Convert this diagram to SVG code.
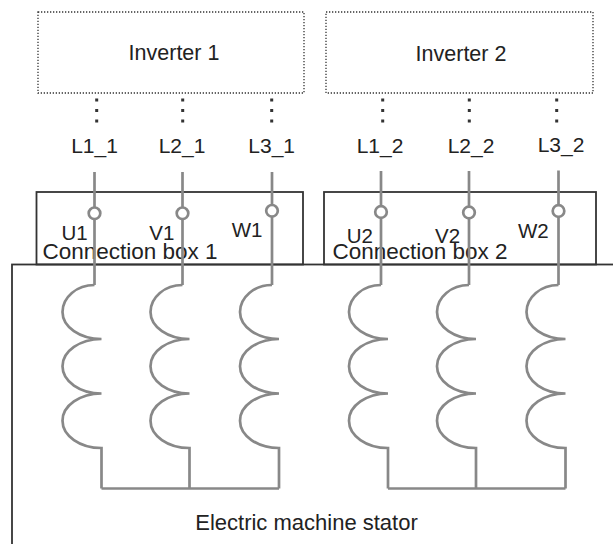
<svg xmlns="http://www.w3.org/2000/svg" xmlns:xlink="http://www.w3.org/1999/xlink" width="613" height="544" viewBox="0 0 613 544">
<style>
  text { font-family: "Liberation Sans", Arial, sans-serif; fill: #222; }
  .inv { fill: none; stroke: #333; stroke-width: 1.3; stroke-dasharray: 1.3 1.7; }
  .box { fill: none; stroke: #333; stroke-width: 1.8; }
  .wire { fill: none; stroke: #888; stroke-width: 2.7; }
  .term { fill: #fff; stroke: #888; stroke-width: 2.7; }
  .dots { stroke: #333; stroke-width: 3; stroke-dasharray: 3 7.5; }
  .big { font-size: 21.5px; }
  .stat { font-size: 22px; }
  .lbl { font-size: 21px; }
  .ph { font-size: 20.5px; }
  .cb { font-size: 22.5px; }
</style>
<defs>
  <path id="coilShape" class="wire" d="M0 285 C-17.7 285 -32 297.1 -32 312 C-32 326.9 -14.5 339 7 339 C-14.5 339 -32 351.2 -32 366.25 C-32 381.3 -14.5 393.5 7 393.5 C-14.5 393.5 -32 405.7 -32 420.75 C-32 435.8 -14.5 448 7 448 V488.5"/>
</defs>

<g id="stator">
  <rect class="box" x="12" y="264.5" width="700" height="400"/>
  <text class="stat" x="306.5" y="530" text-anchor="middle">Electric machine stator</text>
</g>

<g id="inverter1">
  <rect class="inv" x="38" y="12" width="266" height="81"/>
  <text class="big" x="174" y="60" text-anchor="middle">Inverter 1</text>
</g>
<g id="inverter2">
  <rect class="inv" x="326" y="12" width="267" height="81"/>
  <text class="big" x="461" y="61" text-anchor="middle">Inverter 2</text>
</g>

<g id="connection-box-1">
  <rect class="box" x="36.5" y="192" width="266.5" height="72.5"/>
  <text class="cb" x="42.5" y="259">Connection box 1</text>
</g>
<g id="connection-box-2">
  <rect class="box" x="324" y="192" width="272" height="72.5"/>
  <text class="cb" x="332.5" y="259">Connection box 2</text>
</g>

<g id="coils">
  <use id="coil-u1" xlink:href="#coilShape" x="94.5"/>
  <use id="coil-v1" xlink:href="#coilShape" x="182.5"/>
  <use id="coil-w1" xlink:href="#coilShape" x="272"/>
  <use id="coil-u2" xlink:href="#coilShape" x="381"/>
  <use id="coil-v2" xlink:href="#coilShape" x="469"/>
  <use id="coil-w2" xlink:href="#coilShape" x="558.5"/>
</g>

<g id="connectors">
  <line class="dots" x1="96.7" y1="98.5" x2="96.7" y2="123"/>
  <line class="dots" x1="182.7" y1="98.5" x2="182.7" y2="123"/>
  <line class="dots" x1="271.7" y1="98.5" x2="271.7" y2="123"/>
  <line class="dots" x1="382.7" y1="98.5" x2="382.7" y2="123"/>
  <line class="dots" x1="469.3" y1="98.5" x2="469.3" y2="123"/>
  <line class="dots" x1="556.7" y1="98.5" x2="556.7" y2="123"/>

  <path class="wire" d="M94.5 172 V285"/>
  <path class="wire" d="M182.5 172 V285"/>
  <path class="wire" d="M272 172 V285"/>
  <path class="wire" d="M381 171 V285"/>
  <path class="wire" d="M469 171 V285"/>
  <path class="wire" d="M558.5 170.5 V285"/>

  <path class="wire" d="M101.5 488.5 H279"/>
  <path class="wire" d="M388 488.5 H565.5"/>
</g>

<g id="terminals">
  <circle class="term" cx="94.5" cy="213.3" r="5.8"/>
  <circle class="term" cx="182.5" cy="213.3" r="5.8"/>
  <circle class="term" cx="272" cy="210.8" r="5.8"/>
  <circle class="term" cx="381" cy="212" r="5.8"/>
  <circle class="term" cx="469" cy="212.5" r="5.8"/>
  <circle class="term" cx="558.5" cy="211" r="5.8"/>
</g>

<g id="labels">
  <text class="lbl" x="94.5" y="153.3" text-anchor="middle">L1_1</text>
  <text class="lbl" x="182" y="153.3" text-anchor="middle">L2_1</text>
  <text class="lbl" x="271.7" y="153.3" text-anchor="middle">L3_1</text>
  <text class="lbl" x="380" y="153.3" text-anchor="middle">L1_2</text>
  <text class="lbl" x="471" y="153.3" text-anchor="middle">L2_2</text>
  <text class="lbl" x="561" y="151.7" text-anchor="middle">L3_2</text>

  <text class="ph" x="61.5" y="240">U1</text>
  <text class="ph" x="149.3" y="240">V1</text>
  <text class="ph" x="231.7" y="237">W1</text>
  <text class="ph" x="346.7" y="242.5">U2</text>
  <text class="ph" x="435" y="242.5">V2</text>
  <text class="ph" x="518" y="238">W2</text>
</g>
</svg>
